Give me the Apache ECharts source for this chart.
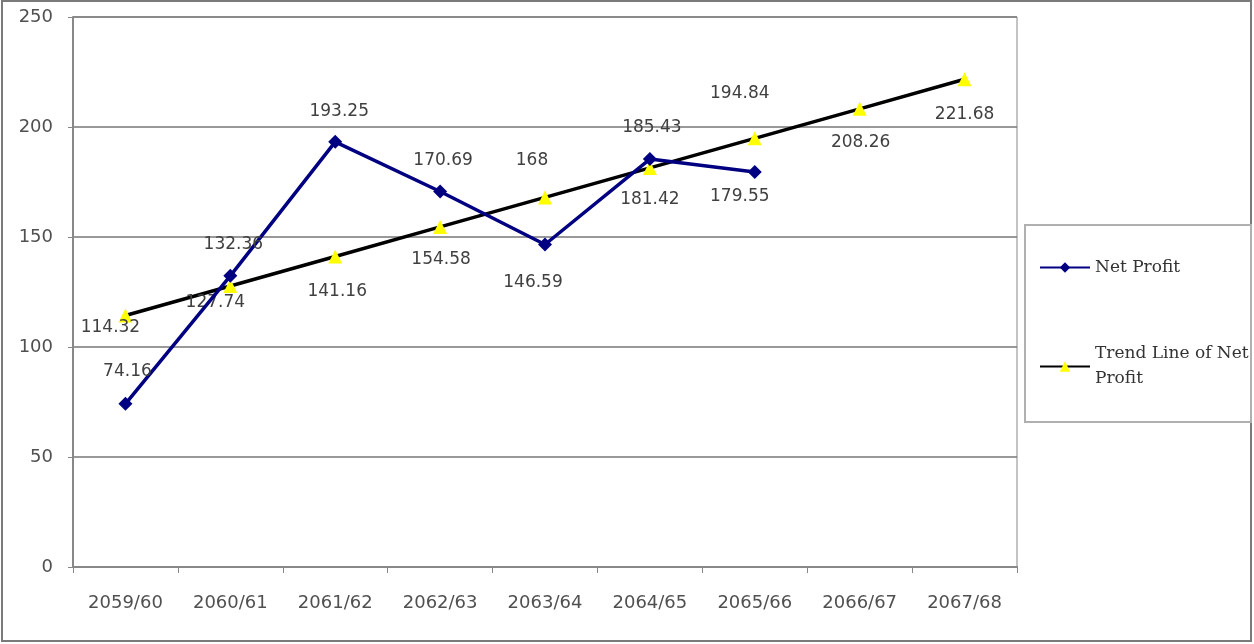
<!DOCTYPE html>
<html>
<head>
<meta charset="utf-8">
<script src="https://cdn.jsdelivr.net/npm/echarts@6/dist/echarts.min.js"></script>
<style>
html,body{margin:0;padding:0;background:#fff;}
#chart{width:1254px;height:644px;}
</style>
</head>
<body>
<div id="chart"></div>
<script>
const categories = ['2059/60','2060/61','2061/62','2062/63','2063/64','2064/65','2065/66','2066/67','2067/68'];
const netProfit = [74.16, 132.36, 193.25, 170.69, 146.59, 185.43, 179.55];
const trendLine = [114.32, 127.74, 141.16, 154.58, 168, 181.42, 194.84, 208.26, 221.68];
const yTicks = {min: 0, max: 250, interval: 50};

// label placement (layout only)
const netOffsets = [[2,-32],[3,-31],[4,-30],[3,-31],[-12,38],[2,-31],[-15,25]];
const trendOffsets = [[-15,12],[-15,17],[2,35],[1,33],[-13,-37],[0,32],[-15,-45],[1,34],[0,35]];

const labelBase = {
  show: true,
  position: 'inside',
  color: '#404040',
  fontFamily: 'DejaVu Sans',
  fontSize: 17,
  textBorderWidth: 0,
  formatter: p => String(p.value)
};

const chart = echarts.init(document.getElementById('chart'));
chart.setOption({
  animation: false,
  backgroundColor: '#fff',
  graphic: [
    {type: 'rect', shape: {x: 2, y: 1, width: 1249, height: 640}, style: {fill: 'none', stroke: '#7a7a7a', lineWidth: 2}, z: 0},
    {type: 'rect', shape: {x: 1025, y: 225, width: 226, height: 197}, style: {fill: '#fff', stroke: '#b0b0b0', lineWidth: 2}, z: 0}
  ],
  grid: {left: 73, right: 237, top: 17, bottom: 77, show: true, borderColor: '#888', borderWidth: 1, backgroundColor: 'transparent'},
  legend: {
    orient: 'vertical',
    left: 1034,
    top: 250,
    itemWidth: 50,
    itemHeight: 13,
    itemGap: 49,
    z: 5,
    textStyle: {fontFamily: 'DejaVu Serif', fontSize: 17, color: '#333', lineHeight: 25},
    data: [
      {name: 'Net Profit'},
      {name: 'Trend Line of Net Profit', textStyle: {padding: [25, 0, 0, 0]}}
    ],
    formatter: n => n === 'Trend Line of Net Profit' ? 'Trend Line of Net\nProfit' : n
  },
  xAxis: {
    type: 'category',
    data: categories,
    boundaryGap: true,
    axisLine: {lineStyle: {color: '#888', width: 2}},
    axisTick: {show: true, length: 6, lineStyle: {color: '#888', width: 1}},
    axisLabel: {color: '#505050', fontFamily: 'DejaVu Sans', fontSize: 18, margin: 27},
    splitLine: {show: false}
  },
  yAxis: {
    type: 'value',
    min: yTicks.min,
    max: yTicks.max,
    interval: yTicks.interval,
    axisLine: {show: true, lineStyle: {color: '#888', width: 2}},
    axisTick: {show: true, length: 5, lineStyle: {color: '#888', width: 1}},
    axisLabel: {color: '#505050', fontFamily: 'DejaVu Sans', fontSize: 18, margin: 20},
    splitLine: {show: true, lineStyle: {color: '#777', width: 1.5}}
  },
  series: [
    {
      name: 'Trend Line of Net Profit',
      type: 'line',
      z: 2,
      data: trendLine.map((v, i) => ({value: v, label: {offset: trendOffsets[i]}})),
      symbol: 'triangle',
      symbolSize: 14,
      lineStyle: {color: '#000', width: 3.5},
      itemStyle: {color: '#ffff00', borderWidth: 0},
      label: labelBase
    },
    {
      name: 'Net Profit',
      type: 'line',
      z: 3,
      data: netProfit.map((v, i) => ({value: v, label: {offset: netOffsets[i]}})),
      symbol: 'diamond',
      symbolSize: 14,
      lineStyle: {color: '#000080', width: 3.5},
      itemStyle: {color: '#000080', borderWidth: 0},
      label: labelBase
    }
  ]
});
</script>
</body>
</html>
